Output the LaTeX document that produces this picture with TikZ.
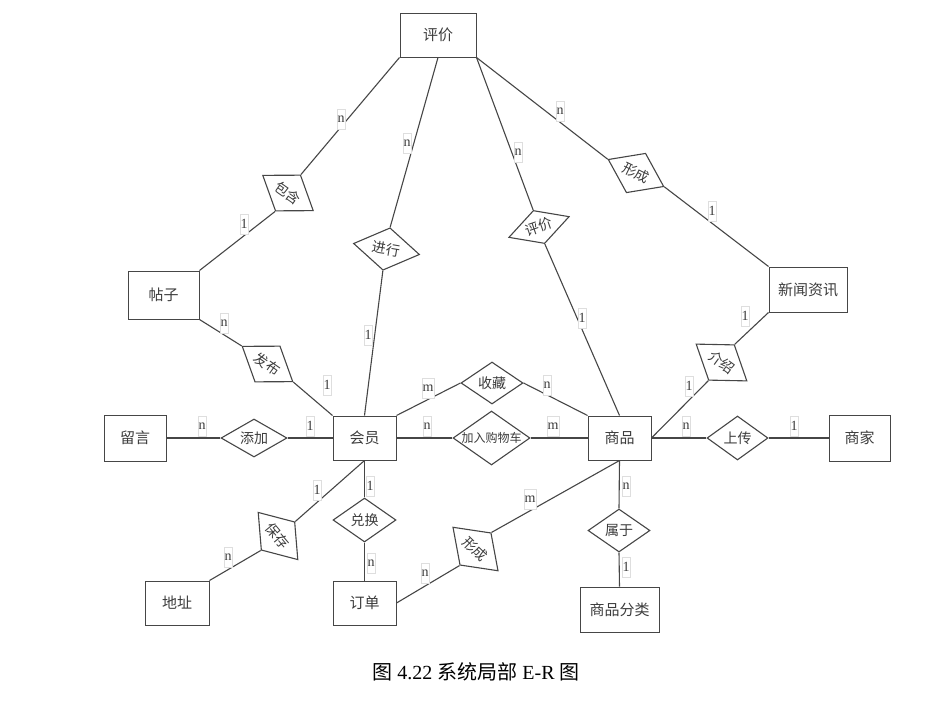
\documentclass[tikz,border=0pt]{standalone}
\usepackage{fontspec}
\setmainfont{Liberation Serif}
\newfontfamily\cjk{Noto Sans CJK SC}
\usetikzlibrary{shapes.geometric}
\definecolor{ln}{RGB}{70,70,70}
\definecolor{tx}{RGB}{60,60,60}
\definecolor{lb}{RGB}{222,222,222}
\begin{document}
\begin{tikzpicture}[x=1pt,y=-1pt,
 ent/.style={draw=ln, line width=1pt, fill=white, text=tx, font=\cjk\fontsize{15}{18}\selectfont, inner sep=0pt},
 rel/.style={diamond, aspect=1.4, draw=ln, line width=1.1pt, fill=white, text=tx, font=\cjk\fontsize{14}{16}\selectfont, inner sep=0pt},
 lab/.style={draw=lb, line width=0.4pt, fill=white, text=tx, font=\fontsize{14}{16}\selectfont, inner xsep=0.6pt, inner ysep=0pt, minimum height=20pt},
 con/.style={draw=ln, line width=1.1pt}]
\useasboundingbox (0,0) rectangle (929,702);
% entities
\node[ent, minimum width=76pt, minimum height=44pt] (pj) at (438,35) {评价};
\node[ent, minimum width=71pt, minimum height=48pt] (tz) at (163.5,295) {帖子};
\node[ent, minimum width=78pt, minimum height=45pt] (xw) at (808,289.5) {新闻资讯};
\node[ent, minimum width=62pt, minimum height=46pt] (ly) at (135,438) {留言};
\node[ent, minimum width=63pt, minimum height=44pt] (hy) at (364.5,438) {会员};
\node[ent, minimum width=63pt, minimum height=44pt] (sp) at (619.5,438) {商品};
\node[ent, minimum width=61pt, minimum height=46pt] (sj) at (859.5,438) {商家};
\node[ent, minimum width=64pt, minimum height=44pt] (dz) at (177,603) {地址};
\node[ent, minimum width=63pt, minimum height=44pt] (dd) at (364.5,603) {订单};
\node[ent, minimum width=79pt, minimum height=45pt] (fl) at (619.5,609.5) {商品分类};
% relationships
\node[rel, aspect=1.74, minimum width=66pt, minimum height=38pt] (tj) at (254,438) {添加};
\node[rel, aspect=1.43, minimum width=77pt, minimum height=54pt, font=\cjk\fontsize{12}{14}\selectfont] (gw) at (491.5,438) {加入购物车};
\node[rel, aspect=1.48, minimum width=62pt, minimum height=42pt] (sc) at (492,383) {收藏};
\node[rel, minimum width=61pt, minimum height=44pt] (sh) at (737.5,438) {上传};
\node[rel, minimum width=63pt, minimum height=44pt] (dh) at (364.5,520) {兑换};
\node[rel, minimum width=62pt, minimum height=43pt] (sy) at (619,530.5) {属于};
% rotated relationships
\node[rel, minimum width=62pt, minimum height=44pt, rotate=-35] (bh) at (288,193) {包含};
\node[rel, aspect=1.56, minimum width=67pt, minimum height=43pt, rotate=-9.5] (jx) at (386.5,249) {进行};
\node[rel, aspect=1.83, minimum width=64pt, minimum height=35pt, rotate=19] (pd) at (539,227) {评价};
\node[rel, minimum width=62pt, minimum height=44pt, rotate=-26] (xca) at (636,173) {形成};
\node[rel, minimum width=62pt, minimum height=44pt, rotate=-35] (fb) at (267.5,364) {发布};
\node[rel, minimum width=63pt, minimum height=44pt, rotate=-36] (js) at (721.5,362.5) {介绍};
\node[rel, minimum width=62pt, minimum height=44pt, rotate=-50] (bc) at (278,536) {保存};
\node[rel, minimum width=63pt, minimum height=45pt, rotate=-44] (xcb) at (475.5,549) {形成};
% connectors
\draw[con] (pj.south west) -- (bh.north);
\draw[con] (bh.south) -- (tz.north east);
\draw[con] (pj.south) -- (jx.north);
\draw[con] (jx.south) -- (hy.north);
\draw[con] (pj.south east) -- (pd.north);
\draw[con] (pd.south) -- (sp.north);
\draw[con] (pj.south east) -- (xca.west);
\draw[con] (xca.east) -- (xw.north west);
\draw[con] (tz.south east) -- (fb.west);
\draw[con] (fb.east) -- (hy.north west);
\draw[con] (xw.south west) -- (js.north);
\draw[con] (js.south) -- (sp.east);
\draw[con] (sp.east) -- (sh.west);
\draw[con] (sh.east) -- (sj.west);
\draw[con] (ly.east) -- (tj.west);
\draw[con] (tj.east) -- (hy.west);
\draw[con] (hy.east) -- (gw.west);
\draw[con] (gw.east) -- (sp.west);
\draw[con] (hy.north east) -- (sc.west);
\draw[con] (sc.east) -- (sp.north west);
\draw[con] (hy.south) -- (dh.north);
\draw[con] (dh.south) -- (dd.north);
\draw[con] (hy.south) -- (bc.north);
\draw[con] (bc.south) -- (dz.north east);
\draw[con] (dd.east) -- (xcb.south);
\draw[con] (xcb.north) -- (sp.south);
\draw[con] (sp.south) -- (sy.north);
\draw[con] (sy.south) -- (fl.north);
% cardinality labels
\node[lab] (l1) at (341,119) {n};
\node[lab] (l2) at (244,224) {1};
\node[lab] (l3) at (407,143) {n};
\node[lab] (l4) at (368,335) {1};
\node[lab] (l5) at (518,152) {n};
\node[lab] (l6) at (582,318) {1};
\node[lab] (l7) at (560,111) {n};
\node[lab] (l8) at (712,211) {1};
\node[lab] (l9) at (224,323) {n};
\node[lab] (l10) at (327,385) {1};
\node[lab] (l11) at (745,316) {1};
\node[lab] (l12) at (689,386) {1};
\node[lab] (l13) at (686,426) {n};
\node[lab] (l14) at (794,426) {1};
\node[lab] (l15) at (202,426) {n};
\node[lab] (l16) at (310,426) {1};
\node[lab] (l17) at (428,388) {m};
\node[lab] (l18) at (547,385) {n};
\node[lab] (l19) at (427,426) {n};
\node[lab] (l20) at (553,426) {m};
\node[lab] (l21) at (317,490) {1};
\node[lab] (l22) at (370,486) {1};
\node[lab] (l23) at (228,557) {n};
\node[lab] (l24) at (371,563) {n};
\node[lab] (l25) at (425,573) {n};
\node[lab] (l26) at (530,499) {m};
\node[lab] (l27) at (626,486) {n};
\node[lab] (l28) at (626,567) {1};
% caption
\node[font=\fontsize{20}{24}\selectfont, text=black, inner sep=0pt] (cap) at (476,672) {{\cjk 图} 4.22 {\cjk 系统局部} E-R {\cjk 图}};
\end{tikzpicture}
\end{document}
